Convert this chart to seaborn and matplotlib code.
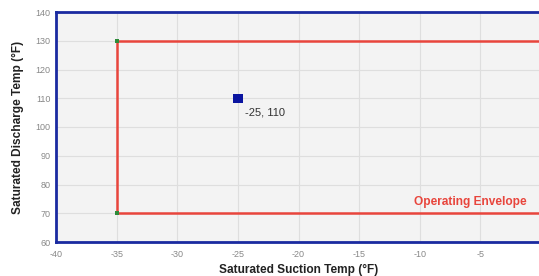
import matplotlib
matplotlib.use("Agg")
import matplotlib.pyplot as plt
import seaborn as sns
import pandas as pd

# Data
envelope_x = [5, -35, -35, 5]
envelope_y = [130, 130, 70, 70]
corner_x = [-35, -35]
corner_y = [130, 70]
point_x = [-25]
point_y = [110]
point_label = "-25, 110"
envelope_label = "Operating Envelope"
x_ticks = [-40, -35, -30, -25, -20, -15, -10, -5, 0]
y_ticks = [60, 70, 80, 90, 100, 110, 120, 130, 140]

sns.set_theme(style="whitegrid")
plt.rcParams['font.family'] = ['Liberation Sans', 'DejaVu Sans']
plt.rcParams['axes.unicode_minus'] = False

fig = plt.figure(figsize=(5.39, 2.76), dpi=100)
ax = fig.add_axes([56/539, 34/276, 485/539, 230/276])
ax.set_facecolor("#f3f3f3")

env = pd.DataFrame({"x": envelope_x, "y": envelope_y})
sns.lineplot(data=env, x="x", y="y", sort=False, color="#e8453c", linewidth=1.8, ax=ax, estimator=None)
sns.scatterplot(x=corner_x, y=corner_y, color="#2e8b3a", s=8, marker="s", edgecolor="none", ax=ax, zorder=5)
sns.scatterplot(x=point_x, y=point_y, color="#0a14a0", s=45, marker="s", edgecolor="none", ax=ax, zorder=6)

ax.annotate(point_label, (point_x[0], point_y[0]), xytext=(5, -10), textcoords="offset points",
            fontsize=8, color="#333333", ha="left", va="center")
ax.text(-1.2, 73.8, envelope_label, color="#e8453c", fontsize=8.6, fontweight="bold", ha="right", va="center")

ax.set_xlim(-40, 0)
ax.set_ylim(60, 140)
ax.set_xticks(x_ticks)
ax.set_yticks(y_ticks)
ax.tick_params(axis="both", labelsize=6.5, colors="#888888", length=0)
ax.tick_params(axis="x", pad=6)
ax.tick_params(axis="y", pad=4)
ax.grid(True, color="#dedede", linewidth=0.8)

for side in ["left", "bottom", "top"]:
    ax.spines[side].set_visible(True)
    ax.spines[side].set_color("#1a2aa0")
    ax.spines[side].set_linewidth(2)
ax.spines["right"].set_visible(False)

ax.set_xlabel("Saturated Suction Temp (°F)", fontsize=8.6, fontweight="bold", color="#222222", labelpad=3)
ax.set_ylabel("Saturated Discharge Temp (°F)", fontsize=8.6, fontweight="bold", color="#222222", labelpad=8)

fig.savefig("out.png", dpi=100)
